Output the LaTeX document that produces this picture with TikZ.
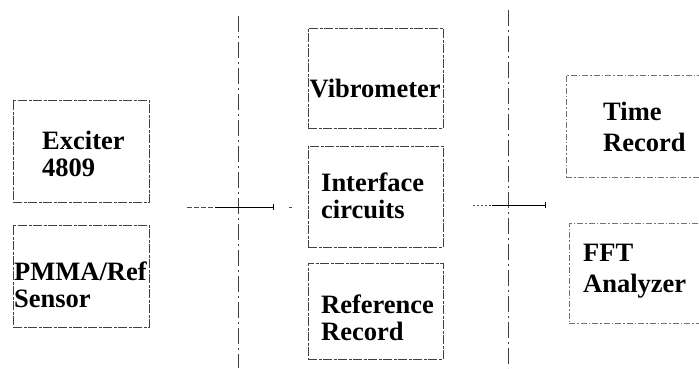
\documentclass[tikz,border=0pt]{standalone}
\usepackage{fontspec}
\setmainfont{Liberation Serif}
\usetikzlibrary{arrows.meta}
\begin{document}
\begin{tikzpicture}[x=1pt,y=-1pt,
  box/.style={draw=black!75, line width=0.7pt, dash pattern=on 9pt off 1.5pt on 3pt off 1.5pt, inner sep=0pt},
  fbox/.style={draw=black!55, line width=0.6pt, dash pattern=on 6pt off 2pt on 1.5pt off 2pt, inner sep=0pt},
  lbl/.style={anchor=west, align=left, inner sep=0pt, font=\fontsize{26.5}{27}\selectfont\bfseries},
  rlbl/.style={anchor=west, align=left, inner sep=0pt, font=\fontsize{26.5}{31}\selectfont\bfseries},
  sep/.style={draw=black!75, line width=0.7pt, dash pattern=on 16pt off 4pt on 2pt off 4pt},
  lead/.style={draw=black!70, line width=0.7pt, dash pattern=on 5pt off 2pt},
  link/.style={draw=black, line width=0.9pt, -{Bar[width=6pt,line width=0.8pt]}}]
\useasboundingbox (0,0) rectangle (699,368);
\clip (0,0) rectangle (699,368);

% boxes
\node[box, minimum width=136pt, minimum height=102pt] (exc) at (81,151) {};
\node[box, minimum width=136pt, minimum height=102pt] (pmma) at (81,276) {};
\node[box, minimum width=135pt, minimum height=100pt] (vib) at (375.5,78) {};
\node[box, minimum width=135pt, minimum height=101pt] (intf) at (375.5,196.5) {};
\node[box, minimum width=135pt, minimum height=96pt] (ref) at (375.5,311) {};
\node[fbox, minimum width=144pt, minimum height=102pt] (time) at (638,126) {};
\node[fbox, minimum width=141pt, minimum height=100pt] (fft) at (639.5,273) {};

% labels
\node[lbl] (excT) at (42,153.5) {Exciter\\4809};
\node[lbl] (pmmaT) at (14,285) {PMMA/Ref\\Sensor};
\node[lbl] (vibT) at (309.5,89) {Vibrometer};
\node[lbl] (intfT) at (321,196) {Interface\\circuits};
\node[lbl] (refT) at (321,318) {Reference\\Record};
\node[rlbl] (timeT) at (603,127) {Time\\Record};
\node[rlbl] (fftT) at (583,271) {FFT\\Analyzer};

% separators
\coordinate (v1t) at (238,16);
\coordinate (v1b) at (238,368);
\coordinate (v2t) at (508,10);
\coordinate (v2b) at (508,368);
\draw[sep] (v1t) -- (v1b);
\draw[sep] (v2t) -- (v2b);

% horizontal leads
\coordinate (h1a) at (187,207);
\coordinate (h1m) at (215,207);
\coordinate (h1b) at (274,207);
\coordinate (h1d) at (289,207);
\coordinate (h1e) at (292,207);
\draw[lead] (h1a) -- (h1m);
\draw[link] (h1m) -- (h1b);
\draw[draw=black!70, line width=0.7pt] (h1d) -- (h1e);

\coordinate (h2a) at (473,205);
\coordinate (h2m) at (492,205);
\coordinate (h2b) at (546,205);
\draw[lead, dash pattern=on 2pt off 2pt] (h2a) -- (h2m);
\draw[link] (h2m) -- (h2b);
\end{tikzpicture}
\end{document}
